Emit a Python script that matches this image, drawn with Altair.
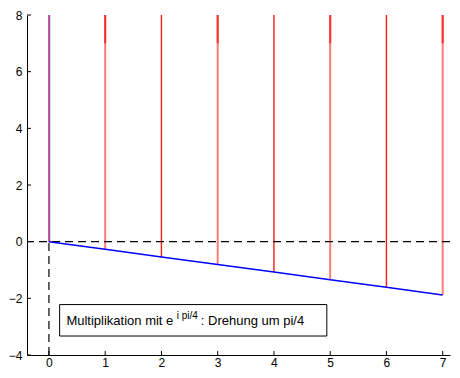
import altair as alt
import pandas as pd

# data
x_vals = [0, 1, 2, 3, 4, 5, 6, 7]
blue_y = [0.0, -0.27, -0.54, -0.81, -1.07, -1.34, -1.61, -1.88]
top_y = [8, 8, 8, 8, 8, 8, 8, 8]
red_colors = ["#c0103a", "#ff7a7a", "#ff1a1a", "#ff7a7a", "#ff1a1a", "#ff7a7a", "#ff1a1a", "#ff7a7a"]
red_widths = [1.2, 2, 1.4, 2, 1.4, 2, 1.4, 2]
seg_x = [1, 3, 5, 7]
seg_y = [7, 7, 7, 7]
seg_y2 = [8, 8, 8, 8]
x_ticks = [0, 1, 2, 3, 4, 5, 6, 7]
y_ticks = [-4, -2, 0, 2, 4, 6, 8]
x_domain = [-0.39, 7.13]
y_domain = [-4, 8]

box = {"x": 0.19, "x2": 4.94, "y": -2.22, "y2": -3.33}
text_main = "Multiplikation mit e"
text_sup = "i pi/4"
text_rest = ": Drehung um pi/4"

W, H = 423, 340
FONT = "Liberation Sans"

xs = alt.Scale(domain=x_domain, nice=False, zero=False)
ys = alt.Scale(domain=y_domain, nice=False, zero=False)

df = pd.DataFrame({"x": x_vals, "y": blue_y, "top": top_y, "c": red_colors, "w": red_widths})
seg = pd.DataFrame({"x": seg_x, "y": seg_y, "y2": seg_y2})

base = alt.Chart(df)

xaxis = alt.Axis(values=x_ticks, format="d", tickSize=0, labelPadding=2, labelFontSize=12, labelFont=FONT,
                 labelColor="black", domainColor="black", grid=False, title=None)
yaxis = alt.Axis(values=y_ticks, format="d", tickSize=0, labelPadding=5, labelFontSize=12, labelFont=FONT,
                 labelColor="black", domainColor="black", grid=False, title=None)

red = base.mark_rule().encode(
    x=alt.X("x:Q", scale=xs, axis=xaxis),
    y=alt.Y("y:Q", scale=ys, axis=yaxis),
    y2="top:Q",
    color=alt.Color("c:N", scale=None),
    strokeWidth=alt.StrokeWidth("w:Q", scale=None),
)

segs = alt.Chart(seg).mark_rule(color="#ff3030", strokeWidth=2).encode(
    x=alt.X("x:Q", scale=xs), y=alt.Y("y:Q", scale=ys), y2="y2:Q"
)

zero_blue = alt.Chart(pd.DataFrame({"x": [x_vals[0]], "y": [blue_y[0]], "top": [top_y[0]]})).mark_rule(
    color="#6030d0", opacity=0.8, strokeWidth=1, xOffset=0.8
).encode(x=alt.X("x:Q", scale=xs), y=alt.Y("y:Q", scale=ys), y2="top:Q")

hdash = alt.Chart(pd.DataFrame({"y": [0]})).mark_rule(color="black", strokeDash=[8, 5], strokeWidth=1.2).encode(
    y=alt.Y("y:Q", scale=ys)
)
vdash = alt.Chart(pd.DataFrame({"x": [0], "y": [y_domain[0]], "y2": [0]})).mark_rule(
    color="black", strokeDash=[8, 5], strokeWidth=1.2
).encode(x=alt.X("x:Q", scale=xs), y=alt.Y("y:Q", scale=ys), y2="y2:Q")

blue = base.mark_line(color="#0000ff", strokeWidth=1.5).encode(
    x=alt.X("x:Q", scale=xs), y=alt.Y("y:Q", scale=ys)
)

xt = alt.Chart(pd.DataFrame({"x": x_ticks})).mark_rule(color="black").encode(
    x=alt.X("x:Q", scale=xs), y=alt.value(H), y2=alt.value(H - 4)
)
yt = alt.Chart(pd.DataFrame({"y": y_ticks})).mark_rule(color="black").encode(
    y=alt.Y("y:Q", scale=ys), x=alt.value(0), x2=alt.value(4)
)

rect = alt.Chart(pd.DataFrame([box])).mark_rect(fill="white", stroke="black", strokeWidth=1).encode(
    x=alt.X("x:Q", scale=xs), x2="x2:Q", y=alt.Y("y:Q", scale=ys), y2="y2:Q"
)

txt = pd.DataFrame({
    "x": [0.31, 2.27, 2.70],
    "y": [-2.95, -2.73, -2.95],
    "t": [text_main, text_sup, text_rest],
    "s": [13, 10, 13],
})
texts = alt.Chart(txt).mark_text(align="left", baseline="alphabetic", font=FONT, color="black").encode(
    x=alt.X("x:Q", scale=xs), y=alt.Y("y:Q", scale=ys), text="t:N",
    size=alt.Size("s:Q", scale=None),
)

chart = alt.layer(red, segs, zero_blue, hdash, vdash, blue, xt, yt, rect, texts).properties(
    width=W, height=H,
    autosize=alt.AutoSizeParams(type="none"),
    padding={"left": 19, "top": 7, "right": 2, "bottom": 15},
).configure_view(stroke=None).configure_axis(domainWidth=1)

chart.save("out.html", embed_options={"renderer": "svg", "actions": False})
